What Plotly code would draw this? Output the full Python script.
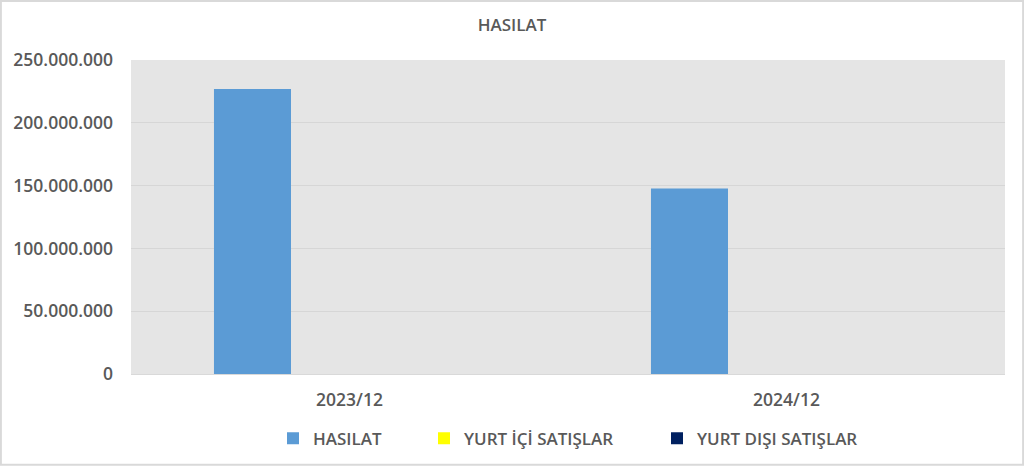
import plotly.graph_objects as go

# values
periods = ["2023/12", "2024/12"]
hasilat = [227000000, 147600000]
yurt_ici = [0, 0]
yurt_disi = [0, 0]

y_ticks = [0, 50000000, 100000000, 150000000, 200000000, 250000000]

W, H = 1024, 468
L, R, T, B = 131, 19, 60, 92
pw, ph = W - L - R, H - T - B

txt = "#595959"
fnt = "Open Sans"

fig = go.Figure()
fig.add_trace(go.Bar(x=periods, y=hasilat, name="HASILAT", showlegend=True,
                     marker=dict(color="#5b9bd5", line=dict(width=0)), legend="legend"))
fig.add_trace(go.Bar(x=periods, y=yurt_ici, name="YURT İÇİ SATIŞLAR", showlegend=True,
                     marker=dict(color="#ffff00", line=dict(width=0)), legend="legend2"))
fig.add_trace(go.Bar(x=periods, y=yurt_disi, name="YURT DIŞI SATIŞLAR", showlegend=True,
                     marker=dict(color="#002060", line=dict(width=0)), legend="legend3"))


def leg(xpx):
    return dict(x=(xpx - L) / pw, y=(T + ph - 441) / ph, xanchor="left", yanchor="middle",
                orientation="h", bgcolor="rgba(0,0,0,0)", itemwidth=30, visible=True,
                font=dict(family=fnt, size=17, color=txt, weight=600))


fig.update_layout(
    width=W, height=H,
    margin=dict(l=L, r=R, t=T, b=B),
    paper_bgcolor="white",
    plot_bgcolor="#e5e5e5",
    separators=",.",
    barmode="group",
    bargap=0.334,
    bargroupgap=0.206,
    showlegend=True,
    title=dict(text="HASILAT", x=0.5, xanchor="center", y=1 - 25 / H, yanchor="middle",
               font=dict(family=fnt, size=17, color=txt, weight=600)),
    xaxis=dict(showgrid=False, ticks="", showline=True, linecolor="#d9d9d9", linewidth=1,
               tickfont=dict(family=fnt, size=17.5, color=txt, weight=600), ticklabelstandoff=10),
    yaxis=dict(range=[0, 250000000], tickvals=y_ticks, tickformat=",d",
               showgrid=True, gridcolor="#d6d6d6", gridwidth=1, zeroline=False,
               tickfont=dict(family=fnt, size=17.5, color=txt, weight=600), ticklabelstandoff=17),
    legend=leg(273),
    legend2=leg(424),
    legend3=leg(657),
    shapes=[dict(type="rect", xref="paper", yref="paper",
                 x0=-L / pw + 0.001, x1=1 + R / pw - 0.001,
                 y0=-B / ph + 0.002, y1=1 + T / ph - 0.002,
                 line=dict(color="#d9d9d9", width=2), layer="below")],
)

fig.write_html("out.html", config={"displayModeBar": False},
               post_script="document.body.style.margin='0';")
